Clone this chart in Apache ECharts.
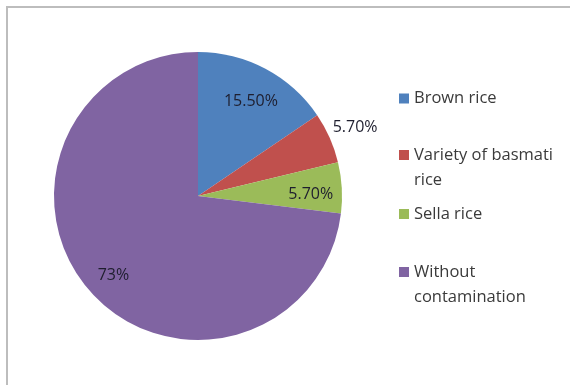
<!DOCTYPE html>
<html><head><meta charset="utf-8">
<script src="https://cdn.jsdelivr.net/npm/echarts@6/dist/echarts.min.js"></script>
<style>html,body{margin:0;padding:0;background:#fff}#c{width:570px;height:385px}</style>
</head><body><div id="c"></div>
<script>
const categories = ['Brown rice', 'Variety of basmati\nrice', 'Sella rice', 'Without\ncontamination'];
const values = [15.5, 5.7, 5.7, 73];
const labels = ['15.50%', '5.70%', '5.70%', '73%'];
const colors = ['#4F81BD', '#C0504D', '#9BBB59', '#8064A2'];
const insideLabel = [true, false, true, true];

const chart = echarts.init(document.getElementById('c'), null, {renderer: 'canvas'});
const font = '"Open Sans", sans-serif';
const center = [198, 196];
const R = 144;

const mainData = categories.map((c, i) => ({
  name: c, value: values[i], itemStyle: {color: colors[i]},
  label: {show: !insideLabel[i], formatter: labels[i]}
}));
const overlayData = categories.map((c, i) => ({
  name: c, value: values[i], itemStyle: {color: 'rgba(0,0,0,0)'},
  label: {show: insideLabel[i], formatter: labels[i]}
}));

const LH = 25;
const legendCenters = [98.5, 155, 214, 272];
const legends = categories.map((c, i) => {
  const multi = c.indexOf('\n') >= 0;
  const h = multi ? LH * 3 : LH;
  return {
    show: true, orient: 'vertical', left: 399, top: legendCenters[i] - h / 2,
    padding: 0,
    data: [c],
    formatter: n => (n.indexOf('\n') >= 0 ? '\u00a0\n' + n : n),
    icon: 'rect', itemWidth: 10, itemHeight: 10, itemGap: 0,
    selectedMode: false,
    textStyle: {fontFamily: font, fontSize: 16.5, color: '#3a3a3a', lineHeight: LH}
  };
});

chart.setOption({
  animation: false,
  backgroundColor: '#fff',
  legend: legends,
  graphic: [{
    type: 'rect', shape: {x: 7, y: 7, width: 700, height: 500},
    style: {fill: 'none', stroke: '#bdbdbd', lineWidth: 2}, silent: true
  }],
  series: [{
    type: 'pie', center: center, radius: [0, R], startAngle: 90, clockwise: true,
    data: mainData,
    label: {position: 'outside', fontFamily: font, fontSize: 16, color: '#1e1e2e'},
    labelLine: {show: false, length: 0, length2: 0},
    labelLayout: {dx: -2, dy: -10},
    emphasis: {disabled: true}
  }, {
    type: 'pie', center: center, radius: [76, R], startAngle: 90, clockwise: true,
    data: overlayData, silent: true, legendHoverLink: false,
    label: {position: 'inside', fontFamily: font, fontSize: 16, color: '#1e1e2e'},
    labelLine: {show: false},
    labelLayout: {dy: 5},
    emphasis: {disabled: true}
  }]
});
</script></body></html>
